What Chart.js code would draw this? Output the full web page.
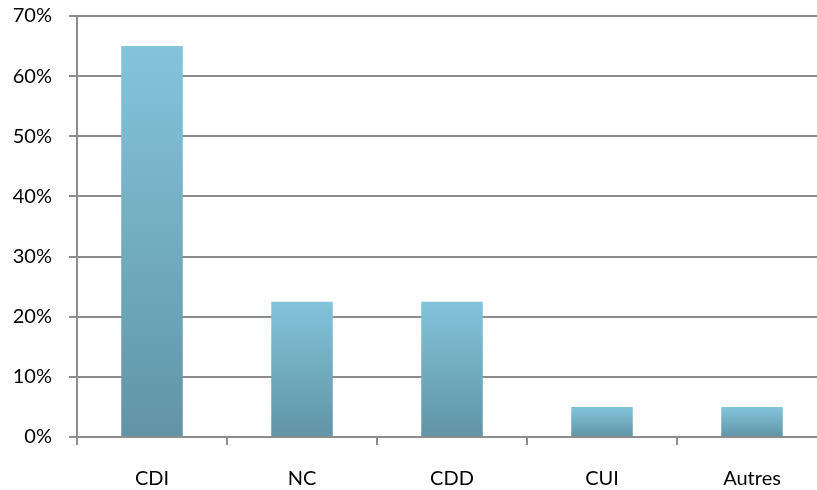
<!DOCTYPE html>
<html>
<head>
<meta charset="utf-8">
<script src="https://cdn.jsdelivr.net/npm/chart.js@4/dist/chart.umd.min.js"></script>
<style>
  html, body { margin: 0; padding: 0; background: #fff; overflow: hidden; }
  #wrap { width: 827px; height: 490px; }
</style>
</head>
<body>
<div id="wrap"><canvas id="myChart"></canvas></div>
<script>
const categories = ['CDI', 'NC', 'CDD', 'CUI', 'Autres'];
const shares = [65, 22.5, 22.5, 5, 5];
const yTicks = [0, 10, 20, 30, 40, 50, 60, 70];

const ctx = document.getElementById('myChart');

// gradient per bar: light at top, darker at base
function barFill(context) {
    const chart = context.chart;
    if (!chart.chartArea || context.raw === undefined) return '#78b3c8';
    const y = chart.scales.y;
    const top = y.getPixelForValue(context.raw);
    const base = y.getPixelForValue(0);
    const g = chart.ctx.createLinearGradient(0, top, 0, base);
    g.addColorStop(0, '#83c4db');
    g.addColorStop(1, '#6194a6');
    return g;
}

new Chart(ctx, {
    type: 'bar',
    data: {
        labels: categories,
        datasets: [{
            data: shares,
            backgroundColor: barFill,
            borderWidth: 0,
            categoryPercentage: 1,
            barPercentage: 0.41
        }]
    },
    options: {
        responsive: true,
        maintainAspectRatio: false,
        animation: false,
        layout: { padding: { top: 16, right: 0, left: 0, bottom: 0 } },
        plugins: { legend: { display: false }, tooltip: { enabled: false } },
        scales: {
            x: {
                grid: { offset: true, drawOnChartArea: false, drawTicks: true, tickLength: 8, color: '#8c8c8c', lineWidth: 2 },
                border: { color: '#8c8c8c', width: 2 },
                ticks: { color: '#000', padding: 22, font: { family: 'Lato', size: 20 } },
                afterFit: s => { s.height = 53; s.paddingLeft = 0; s.paddingRight = 0; }
            },
            y: {
                min: 0,
                max: 70,
                afterBuildTicks: s => { s.ticks = yTicks.map(v => ({ value: v })); },
                grid: { color: '#8c8c8c', lineWidth: 2, tickLength: 8 },
                border: { color: '#8c8c8c', width: 2 },
                ticks: {
                    color: '#000',
                    padding: 17,
                    font: { family: 'Lato', size: 20 },
                    callback: v => v + '%'
                },
                afterFit: s => { s.width = 77; s.paddingTop = 0; s.paddingBottom = 0; }
            }
        }
    }
});
</script>
</body>
</html>
